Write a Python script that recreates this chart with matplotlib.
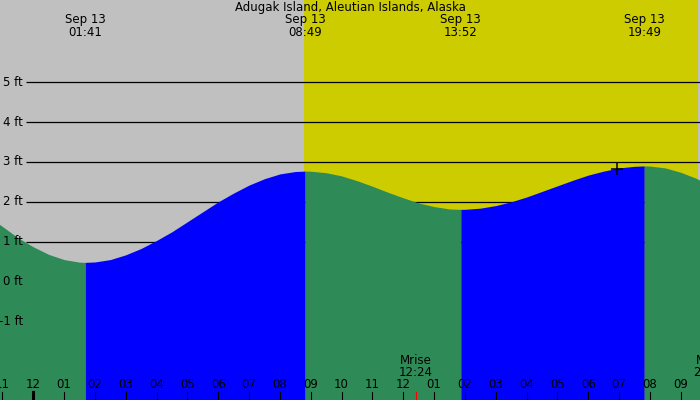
import matplotlib
matplotlib.use("Agg")
import matplotlib.pyplot as plt
from matplotlib.transforms import blended_transform_factory

# ---------------- data ----------------
title = "Adugak Island, Aleutian Islands, Alaska"
date_label = "Sep 13"
extreme_labels = ["01:41", "08:49", "13:52", "19:49"]

# tide curve (hours since midnight, feet)
curve_hours = [-1.5, -1.0, -0.5, 0.0, 0.5, 1.0, 1.5, 1.683,
               2.0, 2.5, 3.0, 3.5, 4.0, 4.5, 5.0, 5.5, 6.0, 6.5, 7.0, 7.5, 8.0, 8.5, 8.817,
               9.0, 9.5, 10.0, 10.5, 11.0, 11.5, 12.0, 12.5, 13.0, 13.5, 13.867,
               14.0, 14.5, 15.0, 15.5, 16.0, 16.5, 17.0, 17.5, 18.0, 18.5, 19.0, 19.5, 19.817,
               20.0, 20.5, 21.0, 21.5, 22.0]
curve_heights = [1.66, 1.38, 1.10, 0.87, 0.68, 0.55, 0.485, 0.48,
                 0.49, 0.55, 0.67, 0.83, 1.03, 1.25, 1.50, 1.75, 2.00, 2.22, 2.42, 2.58, 2.70, 2.76, 2.77,
                 2.767, 2.73, 2.65, 2.53, 2.39, 2.24, 2.10, 1.97, 1.88, 1.82, 1.81,
                 1.811, 1.84, 1.905, 2.00, 2.12, 2.26, 2.40, 2.54, 2.67, 2.77, 2.85, 2.89, 2.90,
                 2.896, 2.85, 2.74, 2.59, 2.39]

sunrise = "08:47"
sunset = "21:34"
moon_names = ["Mrise", "Mset"]
moon_times = ["12:24", "21:57"]
tick_hours = list(range(-1, 23))
ft_labels = [5, 4, 3, 2, 1, 0, -1]
grid_levels = [1, 2, 3, 4, 5]
cross_hour = 18.93
cross_height = 2.83

# ---------------- styling ----------------
GRAY = "#C0C0C0"
YELLOW = "#CCCC00"
BLUE = "#0000FF"
GREEN = "#2E8B57"
FS = 8.5
plt.rcParams['font.family'] = ['DejaVu Sans']


def hm(s):
    h, m = s.split(":")
    return int(h) + int(m) / 60.0


W, H = 700, 400
fig = plt.figure(figsize=(7, 4), dpi=100)
ax = fig.add_axes([0, 0, 1, 1])
XMIN, XMAX = -1.080, 21.625
YMIN, YMAX = -2.974, 7.064
ax.set_xlim(XMIN, XMAX)
ax.set_ylim(YMIN, YMAX)
ax.axis("off")
fig.patch.set_facecolor(GRAY)
ax.set_facecolor(GRAY)

bx = blended_transform_factory(ax.transData, ax.transAxes)   # x data, y axes
by = blended_transform_factory(ax.transAxes, ax.transData)   # x axes, y data


def py(p):  # pixel y from top -> axes fraction
    return 1 - p / H


# sky
ax.axvspan(XMIN, XMAX, color=GRAY, zorder=0, lw=0)
ax.axvspan(hm(sunrise), hm(sunset), color=YELLOW, zorder=1, lw=0)

# grid lines
gx0 = XMIN + 26 / W * (XMAX - XMIN)
ax.hlines(grid_levels, gx0, XMAX, colors="black", lw=0.9, zorder=2)

# water fill, colored by rising / falling
i = 0
n = len(curve_hours)
while i < n - 1:
    rising = curve_heights[i + 1] > curve_heights[i]
    j = i + 1
    while j < n - 1 and (curve_heights[j + 1] > curve_heights[j]) == rising:
        j += 1
    xs = curve_hours[i:j + 1]
    ys = curve_heights[i:j + 1]
    ax.fill_between(xs, ys, YMIN, color=BLUE if rising else GREEN, lw=0, zorder=3)
    i = j

# cross marker
ax.plot(cross_hour, cross_height, marker="+", ms=9, mew=1.1, color="black", zorder=4)

# y labels
for v in ft_labels:
    ax.text(23 / W, v, f"{v} ft", transform=by, ha="right", va="center", fontsize=FS, zorder=5)

# title
ax.text(0.5, py(7.5), title, transform=ax.transAxes, ha="center", va="center", fontsize=FS, zorder=5)

# extreme labels
for lab in extreme_labels:
    t = hm(lab)
    ax.text(t, py(19.5), date_label, transform=bx, ha="center", va="center", fontsize=FS, zorder=5)
    ax.text(t, py(32), lab, transform=bx, ha="center", va="center", fontsize=FS, zorder=5)

# moon labels
for name, tm in zip(moon_names, moon_times):
    t = hm(tm)
    ax.text(t, py(361), name, transform=bx, ha="center", va="center", fontsize=FS, zorder=5)
    ax.text(t, py(373), tm, transform=bx, ha="center", va="center", fontsize=FS, zorder=5)
    ax.axvline(t, ymin=0, ymax=8 / H, color="red", lw=0.8, zorder=5)

# hour ticks and labels
for h in tick_hours:
    hh = h % 12
    if hh == 0:
        hh = 12
    ax.text(h, py(385), f"{hh:02d}", transform=bx, ha="center", va="center", fontsize=FS, zorder=5)
    ax.axvline(h, ymin=0, ymax=8 / H, color="black", lw=2.2 if h % 24 == 0 else 0.8, zorder=5)

fig.savefig("out.png", dpi=100, facecolor=GRAY)
